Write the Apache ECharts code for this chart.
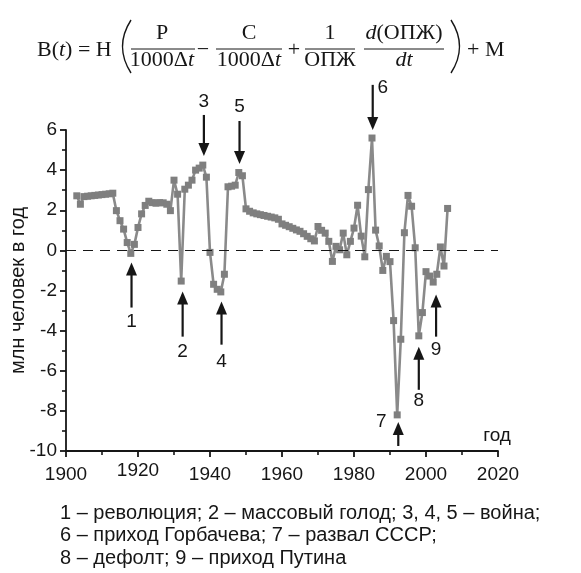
<!DOCTYPE html>
<html>
<head>
<meta charset="utf-8">
<script src="https://cdn.jsdelivr.net/npm/echarts@6/dist/echarts.min.js"></script>
<style>
html,body{margin:0;padding:0;background:#fff;}
#chart{width:581px;height:573px;}
</style>
</head>
<body>
<div id="chart"></div>
<script>
// ---- data ----
const years = [1903,1904,1905,1906,1907,1908,1909,1910,1911,1912,1913,1914,1915,1916,1917,1918,1919,1920,
  1921,1922,1923,1924,1925,1926,1927,1928,1929,1930,1931,1932,1933,1934,1935,1936,1937,1938,1939,1940,
  1941,1942,1943,1944,1945,1946,1947,1948,1949,1950,1951,1952,1953,1954,1955,1956,1957,1958,1959,1960,
  1961,1962,1963,1964,1965,1966,1967,1968,1969,1970,1971,1972,1973,1974,1975,1976,1977,1978,1979,1980,
  1981,1982,1983,1984,1985,1986,1987,1988,1989,1990,1991,1992,1993,1994,1995,1996,1997,1998,1999,2000,
  2001,2002,2003,2004,2005,2006];
const values = [2.72,2.3,2.68,2.7,2.72,2.74,2.76,2.78,2.8,2.82,2.85,1.98,1.48,1.06,0.39,-0.15,0.3,1.14,
  1.82,2.24,2.45,2.38,2.35,2.38,2.37,2.3,1.98,3.5,2.8,-1.53,3.05,3.25,3.5,4.0,4.1,4.25,3.65,-0.1,
  -1.69,-1.94,-2.07,-1.19,3.17,3.2,3.25,3.88,3.72,2.07,1.95,1.87,1.82,1.78,1.74,1.7,1.66,1.62,1.55,1.32,
  1.25,1.18,1.1,1.02,0.95,0.83,0.7,0.58,0.47,1.19,1.0,0.86,0.45,-0.55,0.2,0.03,0.86,-0.22,0.45,1.11,
  2.25,0.71,-0.32,3.03,5.6,1.01,0.22,-1.0,-0.3,-0.56,-3.5,-8.2,-4.43,0.88,2.74,2.2,0.13,-4.26,-3.1,-1.06,
  -1.28,-1.58,-1.19,0.17,-0.78,2.09];

const xTicks = [1900, 2020, 20];   // min, max, step
const yTicks = [-10, 6, 2];

// event annotations: number, year, arrow tail, arrow tip, label position
const eventLabels = ['1','2','3','4','5','6','7','8','9'];
const eventYears  = [1918.2,1932.4,1938.3,1943.2,1948.2,1985.2,1992.3,1998.0,2002.8];
const arrowTail   = [-2.85,-4.3,6.75,-4.7,6.45,8.25,-9.75,-6.95,-4.3];
const arrowTip    = [-0.6,-2.05,4.7,-2.55,4.3,6.0,-8.55,-4.8,-2.2];
const labelYear   = [1918.2,1932.4,1938.3,1943.2,1948.2,1988.0,1987.6,1998.0,2002.8];
const labelValue  = [-3.55,-5.05,7.4,-5.55,7.15,8.1,-8.55,-7.5,-4.95];

const yName = 'млн человек в год';
const xName = 'год';
const notes = [
  '1 – революция; 2 – массовый голод; 3, 4, 5 – война;',
  '6 – приход Горбачева; 7 – развал СССР;',
  '8 – дефолт; 9 – приход Путина'
];

// ---- chart ----
const SANS = '"Liberation Sans", Arial, sans-serif';
const SERIF = '"Liberation Serif", "Times New Roman", serif';
const INK = '#161616';
const chart = echarts.init(document.getElementById('chart'), null, {renderer:'canvas'});

const lineData = years.map((y,i)=>[y, values[i]]);
const eventData = eventYears.map((x,i)=>[x, arrowTail[i], arrowTip[i], labelYear[i], labelValue[i], i]);

function renderEvent(params, api){
  const x = api.value(0), tail = api.value(1), tip = api.value(2);
  const lx = api.value(3), ly = api.value(4), idx = api.value(5);
  const p1 = api.coord([x, tail]);
  const p2 = api.coord([x, tip]);
  const lp = api.coord([lx, ly]);
  const dir = p2[1] > p1[1] ? 1 : -1;
  const headLen = 13, halfW = 5.5;
  const base = p2[1] - dir*headLen;
  return {
    type:'group',
    children:[
      {type:'line', shape:{x1:p1[0], y1:p1[1], x2:p2[0], y2:base + dir*2}, style:{stroke:INK, lineWidth:2.2}},
      {type:'polygon', shape:{points:[[p2[0], p2[1]], [p2[0]-halfW, base], [p2[0]+halfW, base]]}, style:{fill:INK}},
      {type:'text', x:lp[0], y:lp[1], style:{text:eventLabels[idx], font:'19px '+SANS, fill:INK, align:'center', verticalAlign:'middle'}}
    ]
  };
}

const axisCommon = {
  axisLine:{show:true, onZero:false, lineStyle:{color:INK, width:1.8}},
  axisTick:{show:true, inside:false, length:6, lineStyle:{color:INK, width:1.8}},
  minorTick:{show:true, splitNumber:2, length:4, lineStyle:{color:INK, width:1.6}},
  splitLine:{show:false},
  axisLabel:{fontSize:19, fontFamily:SANS, color:INK}
};

const FS = 22;
const richSerif = {
  n:{fontFamily:SERIF, fontSize:FS, color:INK},
  i:{fontFamily:SERIF, fontSize:FS, fontStyle:'italic', color:INK}
};
const NUM_Y = 33, BAR_Y = 49, DEN_Y = 60, MAIN_Y = 50;
const frac = (cx, num, den, x1, x2) => [
  {type:'text', x:cx, y:NUM_Y, style:{text:num.text, rich:num.rich, font:FS+'px '+SERIF, fill:INK, align:'center', verticalAlign:'middle'}},
  {type:'line', shape:{x1:x1, y1:BAR_Y, x2:x2, y2:BAR_Y}, style:{stroke:INK, lineWidth:1}},
  {type:'text', x:cx, y:DEN_Y, style:{text:den.text, rich:den.rich, font:FS+'px '+SERIF, fill:INK, align:'center', verticalAlign:'middle'}}
];

const graphics = [].concat(
  [{type:'text', x:37, y:MAIN_Y, style:{text:'{n|B(}{i|t}{n|) = H}', rich:richSerif, font:FS+'px '+SERIF, fill:INK, align:'left', verticalAlign:'middle'}}],
  [{type:'bezierCurve', shape:{x1:131, y1:20, x2:131, y2:73, cpx1:114, cpy1:46.5}, style:{stroke:INK, lineWidth:1.4, fill:null}}],
  frac(162, {text:'P'}, {text:'{n|1000Δ}{i|t}', rich:richSerif}, 131, 195),
  [{type:'text', x:203, y:MAIN_Y, style:{text:'−', font:FS+'px '+SERIF, fill:INK, align:'center', verticalAlign:'middle'}}],
  frac(249, {text:'C'}, {text:'{n|1000Δ}{i|t}', rich:richSerif}, 216, 282),
  [{type:'text', x:294, y:MAIN_Y, style:{text:'+', font:FS+'px '+SERIF, fill:INK, align:'center', verticalAlign:'middle'}}],
  frac(330, {text:'1'}, {text:'ОПЖ'}, 305, 355),
  frac(404, {text:'{i|d}{n|(ОПЖ)}', rich:richSerif}, {text:'{i|dt}', rich:richSerif}, 364, 444),
  [{type:'bezierCurve', shape:{x1:451, y1:20, x2:451, y2:73, cpx1:468, cpy1:46.5}, style:{stroke:INK, lineWidth:1.4, fill:null}}],
  [{type:'text', x:467, y:MAIN_Y, style:{text:'+ M', font:FS+'px '+SERIF, fill:INK, align:'left', verticalAlign:'middle'}}],
  notes.map((t,i)=>({type:'text', x:60, y:513 + i*22.5, style:{text:t, font:'20px '+SANS, fill:INK, align:'left', verticalAlign:'middle'}}))
);

chart.setOption({
  animation:false,
  backgroundColor:'#fff',
  grid:{left:66, right:83, top:130, bottom:122, containLabel:false, outerBoundsMode:'none'},
  xAxis: Object.assign({}, axisCommon, {
    type:'value', min:xTicks[0], max:xTicks[1], interval:xTicks[2],
    axisLabel:Object.assign({}, axisCommon.axisLabel, {margin:14,
      formatter:(v)=> v === 1920 ? '{up|' + v + '}' : String(v),
      rich:{up:{fontSize:19, fontFamily:SANS, color:INK, lineHeight:11}}}),
    name:xName, nameLocation:'end', nameGap:-1, nameMoveOverlap:false,
    nameTextStyle:{fontSize:19, fontFamily:SANS, color:INK, align:'center', verticalAlign:'bottom', padding:[0,0,6,0]}
  }),
  yAxis: Object.assign({}, axisCommon, {
    type:'value', min:yTicks[0], max:yTicks[1], interval:yTicks[2],
    axisLabel:Object.assign({}, axisCommon.axisLabel, {margin:9, formatter:(v)=>String(v)}),
    name:yName, nameLocation:'middle', nameGap:38, nameMoveOverlap:false,
    nameTextStyle:{fontSize:20, fontFamily:SANS, color:INK}
  }),
  series:[
    {
      type:'line', data:[], silent:true,
      markLine:{silent:true, symbol:'none', label:{show:false},
        lineStyle:{color:INK, width:1.2, type:[10,7]},
        data:[{yAxis:0}]}
    },
    {
      type:'line', data:lineData, symbol:'rect', symbolSize:7, showSymbol:true,
      lineStyle:{color:'#8a8a8a', width:2.6},
      itemStyle:{color:'#7f7f7f', borderWidth:0},
      z:3
    },
    {
      type:'custom', data:eventData, renderItem:renderEvent, clip:false, silent:true, z:4,
      encode:{x:0, y:1}
    }
  ],
  graphic:graphics
});
</script>
</body>
</html>
